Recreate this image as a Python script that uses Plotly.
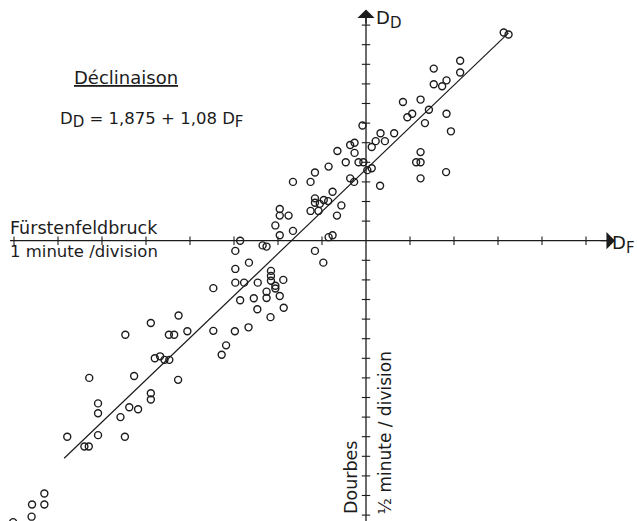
import plotly.graph_objects as go

# ---- data (minutes) ----
df_x = [3.13, 3.24, 2.14, 2.14, 1.54, 1.54, 1.73, 1.83, 0.84, 1.24, 1.43, 0.94, 1.05, 1.83, 1.34,
        1.93, -0.08, 0.33, 0.64, 0.22, 0.43, 0.13, -0.36, -0.26, -0.26, -0.65, -0.46, -0.17, -0.06,
        0.03, 0.13, -0.36, -0.27, -0.85, 0.32, 1.24, 1.14, 1.24, 1.24, 1.82, -0.76, -0.56, -0.66,
        -1.16, -1.16, -1.05, -0.96, -0.86, -1.26, -1.08, -1.16, -1.66, -1.26, -1.96, -1.96, -1.76,
        -2.06, -1.66, -1.96, -0.85, -0.76, -2.86, -2.97, -2.35, -2.26, -1.16, -0.97, -2.66, -2.97,
        -2.16, -2.16, -2.16, -2.06, -2.06, -1.88, -3.47, -2.97, -2.77, -2.46, -2.86, -2.55, -2.26,
        -2.26, -1.96, -2.47, -1.87, -2.17, -3.47, -2.98, -2.67, -4.26, -4.89, -5.47, -4.48, -4.36,
        -4.06, -3.18, -3.28, -4.80, -4.68, -4.58, -4.47, -4.27, -6.29, -5.27, -4.89, -4.89, -6.09,
        -6.09, -5.38, -5.18, -5.58, -6.79, -6.09, -5.48, -6.40, -6.30, -7.31, -7.59, -7.31, -7.60,
        -8.02]
dd_y = [5.31, 5.26, 4.59, 4.29, 4.39, 3.99, 3.94, 4.09, 3.54, 3.60, 3.34, 3.15, 3.24, 3.24, 3.00,
        2.79, 2.94, 2.74, 2.74, 2.54, 2.54, 2.39, 2.44, 2.50, 2.24, 2.29, 2.00, 2.00, 2.00,
        1.80, 1.85, 1.59, 1.50, 1.89, 1.40, 2.26, 2.00, 2.00, 1.59, 1.75, 1.25, 0.90, 0.64,
        1.08, 0.97, 0.94, 1.04, 1.01, 0.76, 0.76, 1.74, 1.50, 1.50, 0.81, 0.64, 0.64,
        0.39, 0.25, 0.14, 0.09, 0.14, 0.00, -0.26, -0.12, -0.15, -0.26, -0.56, -0.56, -0.72,
        -0.77, -0.90, -1.02, -1.15, -1.22, -1.00, -1.21, -1.07, -1.07, -1.07, -1.52, -1.47, -1.30,
        -1.46, -1.41, -1.75, -1.71, -1.95, -2.30, -2.31, -2.21, -1.91, -2.10, -2.40, -2.40, -2.40,
        -2.31, -2.67, -2.91, -3.00, -2.95, -3.04, -3.04, -3.55, -3.50, -3.45, -3.89, -4.05, -4.15,
        -4.40, -4.25, -4.30, -4.50, -5.00, -4.96, -5.00, -5.25, -5.25, -6.45, -6.73, -6.73, -7.04,
        -7.18]

# regression line D_D = 1,875 + 1,08 D_F, endpoints as drawn
reg_x = [-6.86, 3.24]
reg_y = [-5.55, 5.30]

# axis divisions: 1 minute per division on D_F, 1/2 minute per division on D_D
x_ticks = [-8, -7, -6, -5, -4, -3, -2, -1, 1, 2, 3, 4, 5]
y_ticks = [-7.0, -6.5, -6.0, -5.5, -5.0, -4.5, -4.0, -3.5, -3.0, -2.5, -2.0, -1.5, -1.0, -0.5,
           0.5, 1.0, 1.5, 2.0, 2.5, 3.0, 3.5, 4.0, 4.5, 5.0, 5.5]

INK = "#1c1c1c"
W, H = 638, 521
X0, Y0, SX, SY = 366.0, 240.7, 44.0, 39.2  # pixel placement of origin and scale

fig = go.Figure()

# axes lines
fig.add_trace(go.Scatter(x=[-8.09, 5.45], y=[0, 0], mode="lines",
                         line=dict(color=INK, width=1.3), hoverinfo="skip"))
fig.add_trace(go.Scatter(x=[0, 0], y=[-7.3, 5.75], mode="lines",
                         line=dict(color=INK, width=1.3), hoverinfo="skip"))
# tick marks
fig.add_trace(go.Scatter(x=x_ticks, y=[0] * len(x_ticks), mode="markers",
                         marker=dict(symbol="line-ns", size=6, color=INK,
                                     line=dict(color=INK, width=1.1)),
                         hoverinfo="skip"))
fig.add_trace(go.Scatter(x=[0] * len(y_ticks), y=y_ticks, mode="markers",
                         marker=dict(symbol="line-ew", size=6, color=INK,
                                     line=dict(color=INK, width=1.1)),
                         hoverinfo="skip"))

# regression line
fig.add_trace(go.Scatter(x=reg_x, y=reg_y, mode="lines",
                         line=dict(color=INK, width=1.2), hoverinfo="skip"))

# observations
fig.add_trace(go.Scatter(x=df_x, y=dd_y, mode="markers",
                         marker=dict(symbol="circle-open", size=7, color=INK,
                                     line=dict(color=INK, width=1.4)),
                         hovertemplate="D_F=%{x}<br>D_D=%{y}<extra></extra>"))

def px(xp):
    return xp / W

def py(yp):
    return 1 - yp / H

FONT = "DejaVu Sans"
ann = []
# arrow heads
ann.append(dict(x=5.66, y=0, ax=5.3, ay=0, xref="x", yref="y", axref="x", ayref="y",
                text="", showarrow=True, arrowhead=1, arrowsize=2.2, arrowwidth=1.3,
                arrowcolor=INK))
ann.append(dict(x=0, y=5.90, ax=0, ay=5.5, xref="x", yref="y", axref="x", ayref="y",
                text="", showarrow=True, arrowhead=1, arrowsize=2.2, arrowwidth=1.3,
                arrowcolor=INK))

def label(text, x, y, size=18, xanchor="left", angle=0):
    ann.append(dict(text=text, x=px(x), y=py(y), xref="paper", yref="paper",
                    xanchor=xanchor, yanchor="middle", showarrow=False, textangle=angle,
                    font=dict(family=FONT, size=size, color=INK)))

SUB = "<sub><span style='font-size:15px'>{}</span></sub>"
label("<u>Déclinaison</u>", 72, 78)
label("D" + SUB.format("D") + " = 1,875 + 1,08 D" + SUB.format("F"), 58, 120, size=16.5)
label("Fürstenfeldbruck", 8, 228, size=17.5)
label("1 minute /division", 8, 251, size=16.5)
label("D" + SUB.format("D"), 374, 20, size=18)
label("D" + SUB.format("F"), 610, 244, size=18)
label("Dourbes", 351, 478, size=17.5, xanchor="center", angle=-90)
label("½ minute / division", 384.5, 433, size=17, xanchor="center", angle=-90)

fig.update_layout(
    width=W, height=H,
    margin=dict(l=0, r=0, t=0, b=0),
    paper_bgcolor="white", plot_bgcolor="white",
    showlegend=False,
    xaxis=dict(range=[-X0 / SX, (W - X0) / SX], visible=False, fixedrange=True),
    yaxis=dict(range=[(Y0 - H) / SY, Y0 / SY], visible=False, fixedrange=True),
    annotations=ann,
)

fig.write_html("out.html", config={"displayModeBar": False},
               post_script="document.body.style.margin='0';document.body.style.overflow='hidden';")
